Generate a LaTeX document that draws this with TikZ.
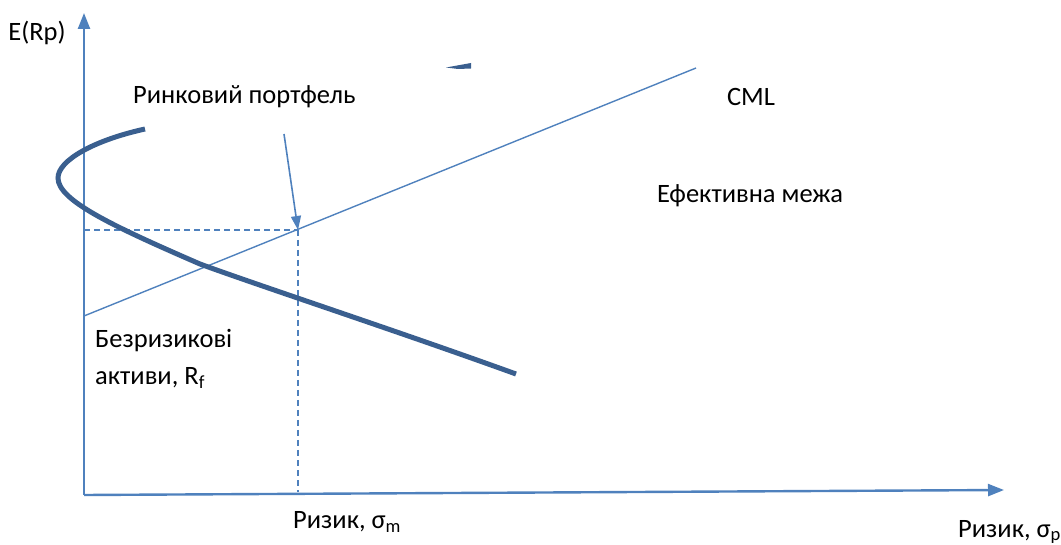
\documentclass[tikz,border=0pt]{standalone}
\usepackage{fontspec}
\setmainfont{Carlito}
\usetikzlibrary{arrows.meta}
\definecolor{axisblue}{HTML}{4F81BD}
\definecolor{curveblue}{HTML}{3A5F8F}
\tikzset{
  axisline/.style={draw=axisblue, line width=2.4pt, -{Triangle[length=16pt,width=12pt]}},
  thinline/.style={draw=axisblue, line width=1.4pt},
  dashline/.style={draw=axisblue, line width=1.4pt, dash pattern=on 6pt off 4pt},
  frontier/.style={draw=curveblue, line width=5pt},
  pointer/.style={draw=axisblue, line width=1.6pt, -{Triangle[length=14pt,width=10pt]}},
  lbl/.style={font=\fontsize{26.5pt}{30pt}\selectfont, inner sep=0pt, text=black},
}
\begin{document}
\begin{tikzpicture}[x=1pt,y=-1pt]
\useasboundingbox (0,0) rectangle (1061,545);
% coordinates
\coordinate (O) at (84,495);
\coordinate (ytop) at (84,13);
\coordinate (xend) at (1004,490);
\coordinate (rf) at (84,316);
\coordinate (cmlend) at (696,68);
\coordinate (M) at (298,230);
\coordinate (My) at (84,230);
\coordinate (Mx) at (298,492);
\coordinate (pstart) at (284,134);
% axes
\draw[axisline] (O) -- (ytop);
\draw[axisline] (O) -- (xend);
% dashed guides
\draw[dashline] (My) -- (M);
\draw[dashline] (M) -- (Mx);
% CML
\draw[thinline] (rf) -- (cmlend);
% efficient frontier
\draw[frontier] (145,129) .. controls (95,140) and (58,160) .. (58,178)
  .. controls (58,200) and (110,225) .. (200,264)
  .. controls (260,286) and (400,332) .. (516,374);
\fill[curveblue] (446,67.5) -- (471,63) -- (471,68.5) -- (458,69) -- cycle;
% pointer arrow
\draw[pointer] (pstart) -- (M);
% labels
\node[lbl] (ey) at (37,33) {E(Rp)};
\node[lbl, anchor=west] (mp) at (133,97) {Ринковий портфель};
\node[lbl] (cml) at (751,97) {CML};
\node[lbl] (ef) at (750,196) {Ефективна межа};
\node[lbl, anchor=west] (rf1) at (95,341) {Безризикові};
\node[lbl, anchor=west] (rf2) at (95,378) {активи, R\textsubscript{f}};
\node[lbl, anchor=west] (sm) at (293,522) {Ризик, σ\textsubscript{m}};
\node[lbl, anchor=west] (sp) at (958,532) {Ризик, σ\textsubscript{p}};
\end{tikzpicture}
\end{document}
